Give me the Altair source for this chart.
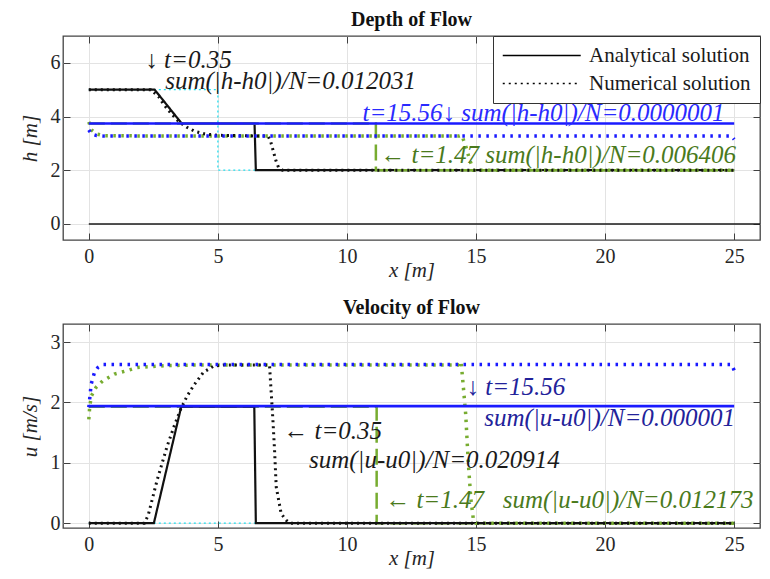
import altair as alt
import pandas as pd

FONT = "Liberation Serif"

# ---------------- Depth of flow (h) ----------------
h0_x = [0, 5, 5, 25]
h0_y = [5, 5, 2, 2]

h_ana_035_x = [0, 2.55, 3.6, 6.42, 6.47, 25]
h_ana_035_y = [5, 5, 3.74, 3.74, 2, 2]

h_num_035_x = [0, 2.4, 2.7, 2.9, 3.2, 3.5, 3.8, 4.1, 4.5, 5.0, 6.95, 7.05, 7.15, 7.25, 7.35, 7.5, 25]
h_num_035_y = [5, 5, 4.75, 4.45, 4.1, 3.8, 3.6, 3.45, 3.35, 3.3, 3.27, 3.05, 2.7, 2.35, 2.1, 2.0, 2.0]

h_ana_147_x = [0, 11.12, 11.12, 25]
h_ana_147_y = [3.74, 3.74, 2, 2]

h_num_147_x = [0, 0.1, 0.3, 0.6, 14.35, 14.45, 14.6, 14.75, 14.9, 25]
h_num_147_y = [3.8, 3.5, 3.35, 3.28, 3.27, 3.3, 2.9, 2.4, 2.0, 2.0]

h_ana_1556_x = [0, 25]
h_ana_1556_y = [3.74, 3.74]

h_num_1556_x = [0, 0.1, 0.3, 0.6, 24.9, 25]
h_num_1556_y = [3.5, 3.35, 3.29, 3.27, 3.27, 3.15]

bed_x = [0, 26]
bed_y = [0, 0]

# ---------------- Velocity of flow (u) ----------------
u0_x = [0, 25]
u0_y = [0, 0]

u_ana_035_x = [0, 2.52, 3.58, 6.41, 6.47, 25]
u_ana_035_y = [0, 0, 1.93, 1.93, 0, 0]

u_num_035_x = [0, 2.15, 2.3, 2.65, 3.03, 3.3, 3.55, 3.8, 4.06, 4.44, 4.83, 5.2, 7.0, 7.05, 7.13, 7.2, 7.26, 7.45, 7.64, 7.8, 25]
u_num_035_y = [0, 0, 0.13, 0.72, 1.27, 1.6, 1.88, 2.1, 2.28, 2.5, 2.6, 2.62, 2.62, 2.27, 1.72, 1.17, 0.6, 0.16, 0.05, 0, 0]

u_ana_147_x = [0, 11.15, 11.15, 25]
u_ana_147_y = [1.93, 1.93, 0, 0]

u_num_147_x = [0, 0.03, 0.09, 0.28, 0.54, 0.99, 1.5, 1.88, 3.0, 4.0, 14.3, 14.42, 14.5, 14.6, 14.7, 14.8, 14.9, 15.0, 25]
u_num_147_y = [1.72, 1.9, 2.1, 2.25, 2.36, 2.47, 2.53, 2.58, 2.61, 2.62, 2.62, 2.68, 2.3, 1.8, 1.0, 0.4, 0.05, 0, 0]

u_ana_1556_x = [0, 25]
u_ana_1556_y = [1.94, 1.94]

u_num_1556_x = [0, 0.05, 0.09, 0.22, 0.35, 0.54, 24.9, 25]
u_num_1556_y = [1.92, 2.13, 2.3, 2.5, 2.58, 2.63, 2.63, 2.53]

# ---------------- axes ----------------
x_ticks = [0, 5, 10, 15, 20, 25]
h_ticks = [0, 2, 4, 6]
u_ticks = [0, 1, 2, 3]

# ---------------- annotations ----------------
h_note_text = ["\u2193 t=0.35", "sum(|h-h0|)/N=0.012031",
               "t=15.56\u2193 sum(|h-h0|)/N=0.0000001",
               "\u2190 t=1.47 sum(|h-h0|)/N=0.006406"]
h_note_x = [2.19, 2.96, 10.6, 11.29]
h_note_y = [6.1, 5.34, 4.14, 2.57]
h_note_c = ["#1a1a1a", "#1a1a1a", "#2a2aff", "#4a7a1c"]

u_note_text = ["\u2190 t=0.35", "sum(|u-u0|)/N=0.020914",
               "\u2193 t=15.56", "sum(|u-u0|)/N=0.000001",
               "\u2190 t=1.47\u2002 sum(|u-u0|)/N=0.012173"]
u_note_x = [7.53, 8.53, 14.63, 15.32, 11.48]
u_note_y = [1.52, 1.05, 2.25, 1.75, 0.38]
u_note_c = ["#1a1a1a", "#1a1a1a", "#22229a", "#22229a", "#4a7a1c"]

LEG_DOMAIN = ["Analytical solution", "Numerical solution"]
TICK = dict(offset=-7, tickSize=7, ticks=True, labels=False, grid=False,
            domain=False, title=None, tickColor="#404040", tickWidth=1)


def series(xs, ys, name):
    return pd.DataFrame({"x": xs, "y": ys, "i": list(range(len(xs))), "s": name})


def panel(parts, notes, xdom, ydom, yvals, ytitle, title, show_legend):
    xs = alt.Scale(domain=xdom, nice=False, zero=False)
    ys = alt.Scale(domain=ydom, nice=False, zero=False)
    axes = [
        (alt.Axis(orient="bottom", values=x_ticks, title="x [m]",
                  labelPadding=6, titlePadding=-7),
         alt.Axis(orient="left", values=yvals, title=ytitle, titlePadding=10)),
        (alt.Axis(orient="top", values=x_ticks, **TICK),
         alt.Axis(orient="right", values=yvals, **TICK)),
        (alt.Axis(orient="bottom", values=x_ticks, **TICK),
         alt.Axis(orient="left", values=yvals, **TICK)),
    ]
    layers = []
    for n, (df, color, width, dash, kind) in enumerate(parts):
        ax_x, ax_y = axes[n] if n < len(axes) else (None, None)
        kw = dict(color=color, strokeWidth=width, clip=True)
        if dash is not None:
            kw["strokeDash"] = dash
        enc = dict(x=alt.X("x:Q", scale=xs, axis=ax_x),
                   y=alt.Y("y:Q", scale=ys, axis=ax_y),
                   order=alt.Order("i:Q"))
        if kind is not None:
            enc["strokeDash"] = alt.StrokeDash(
                "k:N",
                scale=alt.Scale(domain=LEG_DOMAIN, range=[[1, 0], [2, 4]]),
                legend=alt.Legend(title=None, orient="top-right", offset=0,
                                  strokeColor="#333333", fillColor="white",
                                  padding=9, symbolType="M-1,0L7,0",
                                  symbolSize=380, symbolStrokeWidth=1.5,
                                  symbolStrokeColor="black",
                                  symbolFillColor="transparent",
                                  labelFont=FONT, labelFontSize=21,
                                  labelLimit=0,
                                  labelColor="#1a1a1a", rowPadding=6,
                                  labelOffset=66) if show_legend else None)
            df = df.assign(k=kind)
        layers.append(alt.Chart(df).mark_line(**kw).encode(**enc))
    ndf = pd.DataFrame({"x": notes[1], "y": notes[2], "t": notes[0], "c": notes[3]})
    layers.append(
        alt.Chart(ndf).mark_text(align="left", baseline="middle", font=FONT,
                                 fontStyle="italic", fontSize=25, clip=True).encode(
            x=alt.X("x:Q", scale=xs, axis=None),
            y=alt.Y("y:Q", scale=ys, axis=None),
            text="t:N", color=alt.Color("c:N", scale=None)))
    return alt.layer(*layers).resolve_axis(x="independent", y="independent").properties(
        width=697, height=204,
        title=alt.Title(title, font=FONT, fontSize=20, fontWeight="bold",
                        color="#111111", offset=6))


h_parts = [
    (series(bed_x, bed_y, "bed"), "#1a1a1a", 1.5, None, None),
    (series(h0_x, h0_y, "h0"), "#22e0f0", 1.3, [2, 3], None),
    (series(h_ana_035_x, h_ana_035_y, "a035"), "#111111", 2.2, None, "Analytical solution"),
    (series(h_ana_147_x, h_ana_147_y, "a147"), "#77ac30", 2.5, [16, 6], None),
    (series(h_num_147_x, h_num_147_y, "n147"), "#77ac30", 3.5, [2.5, 5.5], None),
    (series(h_num_035_x, h_num_035_y, "n035"), "#111111", 3.0, None, "Numerical solution"),
    (series(h_ana_1556_x, h_ana_1556_y, "a1556"), "#1a1aff", 2.7, None, None),
    (series(h_num_1556_x, h_num_1556_y, "n1556"), "#1a1aff", 3.5, [2.5, 5.5], None),
]

u_parts = [
    (series(u0_x, u0_y, "u0"), "#22e0f0", 1.3, [2, 3], None),
    (series(u_ana_147_x, u_ana_147_y, "a147"), "#77ac30", 2.5, [16, 6], None),
    (series(u_ana_035_x, u_ana_035_y, "a035"), "#111111", 2.2, None, "Analytical solution"),
    (series(u_num_147_x, u_num_147_y, "n147"), "#77ac30", 3.5, [2.5, 5.5], None),
    (series(u_num_035_x, u_num_035_y, "n035"), "#111111", 3.0, None, "Numerical solution"),
    (series(u_ana_1556_x, u_ana_1556_y, "a1556"), "#1a1aff", 2.7, None, None),
    (series(u_num_1556_x, u_num_1556_y, "n1556"), "#1a1aff", 3.5, [2.5, 5.5], None),
]

top = panel(h_parts, (h_note_text, h_note_x, h_note_y, h_note_c),
            [-1, 26], [-0.6, 7], h_ticks, "h [m]", "Depth of Flow", True)
bottom = panel(u_parts, (u_note_text, u_note_x, u_note_y, u_note_c),
               [-1, 26], [-0.08, 3.3], u_ticks, "u [m/s]", "Velocity of Flow", False)

chart = alt.vconcat(top, bottom, spacing=15).resolve_scale(
    strokeDash="independent").properties(
    padding={"left": 10, "top": 0, "right": 0, "bottom": 0}).configure(
    background="white").configure_view(
    stroke="#444444", strokeWidth=1.3).configure_axis(
    labelFont=FONT, labelFontSize=20, labelColor="#262626",
    titleFont=FONT, titleFontSize=21, titleFontStyle="italic",
    titleFontWeight="normal", titleColor="#262626",
    grid=True, gridColor="#e3e3e3", gridWidth=1,
    domain=False, ticks=False, labelPadding=3
)

chart.save("out.html", embed_options={"renderer": "svg", "actions": False})
